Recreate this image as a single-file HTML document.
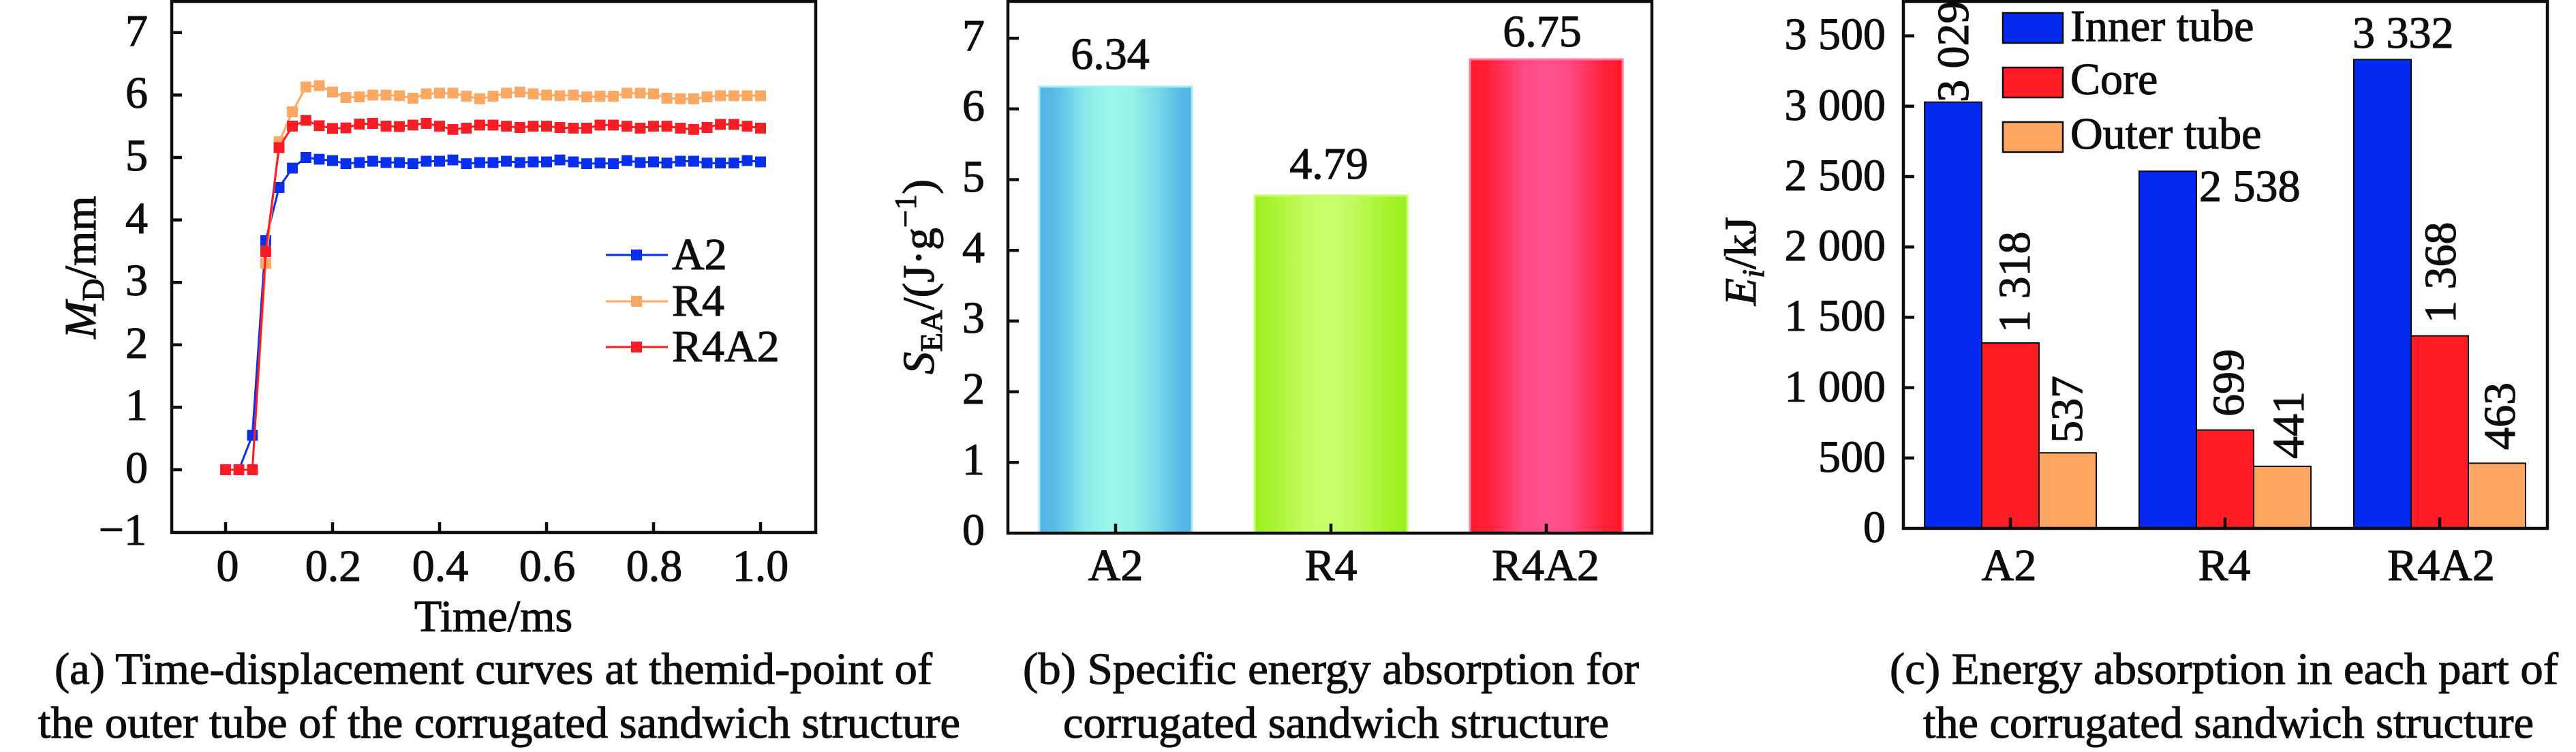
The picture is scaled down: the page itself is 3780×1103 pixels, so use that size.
<!DOCTYPE html>
<html>
<head>
<meta charset="utf-8">
<style>
html,body{margin:0;padding:0;background:#fff;}
svg{display:block}
text{font-family:"Liberation Serif","Times New Roman",serif;fill:#0d0d0d;font-size:66px;stroke:#0d0d0d;stroke-width:1.1px}
</style>
</head>
<body>
<svg width="3780" height="1103" viewBox="0 0 3780 1103" xmlns="http://www.w3.org/2000/svg">
<defs>
  <marker id="mb" markerUnits="userSpaceOnUse" markerWidth="16" markerHeight="16" refX="8" refY="8"><rect width="16" height="16" fill="#0a2ef0"/></marker>
  <marker id="mo" markerUnits="userSpaceOnUse" markerWidth="16" markerHeight="16" refX="8" refY="8"><rect width="16" height="16" fill="#fca862"/></marker>
  <marker id="mr" markerUnits="userSpaceOnUse" markerWidth="16" markerHeight="16" refX="8" refY="8"><rect width="16" height="16" fill="#fa1c24"/></marker>
  <linearGradient id="gA" x1="0" x2="1" y1="0" y2="0">
    <stop offset="0" stop-color="#52b3e4"/>
    <stop offset="0.1" stop-color="#58bce6"/>
    <stop offset="0.3" stop-color="#8ae9ea"/>
    <stop offset="0.45" stop-color="#9cf8e9"/>
    <stop offset="0.6" stop-color="#96f2e8"/>
    <stop offset="0.78" stop-color="#78d8e8"/>
    <stop offset="0.92" stop-color="#56bae6"/>
    <stop offset="1" stop-color="#52b4e4"/>
  </linearGradient>
  <linearGradient id="gR" x1="0" x2="1" y1="0" y2="0">
    <stop offset="0" stop-color="#9cee1e"/>
    <stop offset="0.1" stop-color="#a6f32c"/>
    <stop offset="0.35" stop-color="#c4fd62"/>
    <stop offset="0.5" stop-color="#c9ff6c"/>
    <stop offset="0.65" stop-color="#bffb5c"/>
    <stop offset="0.85" stop-color="#a6f42e"/>
    <stop offset="1" stop-color="#98ee1a"/>
  </linearGradient>
  <linearGradient id="gP" x1="0" x2="1" y1="0" y2="0">
    <stop offset="0" stop-color="#ff1a2a"/>
    <stop offset="0.12" stop-color="#ff2038"/>
    <stop offset="0.35" stop-color="#ff4a86"/>
    <stop offset="0.5" stop-color="#ff5290"/>
    <stop offset="0.65" stop-color="#ff4a86"/>
    <stop offset="0.88" stop-color="#ff2038"/>
    <stop offset="1" stop-color="#ff1a2a"/>
  </linearGradient>
</defs>
<rect width="3780" height="1103" fill="#fff"/>

<!-- ============ Panel (a) ============ -->
<g stroke="#0d0d0d" stroke-width="4.5" fill="none">
  <rect x="252" y="2" width="945" height="779"/>
  <path d="M252 689H267M252 597.4H267M252 505.8H267M252 414.2H267M252 322.6H267M252 231H267M252 139.4H267M252 47.8H267"/>
  <path d="M331 781V766M488 781V766M645 781V766M802 781V766M959 781V766M1116 781V766"/>
</g>
<g text-anchor="end">
  <text x="217" y="67">7</text>
  <text x="217" y="158">6</text>
  <text x="217" y="250">5</text>
  <text x="217" y="342">4</text>
  <text x="217" y="433">3</text>
  <text x="217" y="525">2</text>
  <text x="217" y="616">1</text>
  <text x="217" y="708">0</text>
  <text x="215" y="799">−1</text>
</g>
<g text-anchor="middle">
  <text x="334" y="852">0</text>
  <text x="489" y="852">0.2</text>
  <text x="646" y="852">0.4</text>
  <text x="803" y="852">0.6</text>
  <text x="960" y="852">0.8</text>
  <text x="1116" y="852">1.0</text>
  <text x="724" y="926">Time/ms</text>
</g>
<text transform="translate(140,392) rotate(-90)" text-anchor="middle"><tspan font-style="italic">M</tspan><tspan font-size="46" dy="12">D</tspan><tspan dy="-12">/mm</tspan></text>

<polyline fill="none" stroke="#0a2ef0" stroke-width="3" stroke-linejoin="round" marker-start="url(#mb)" marker-mid="url(#mb)" marker-end="url(#mb)"
points="331,689 350.6,689 370.3,638.6 389.9,352.8 409.5,275 429.1,246.6 448.8,231 468.4,233.7 488,235.6 507.6,240.2 527.3,238.3 546.9,236.5 566.5,238.3 586.1,238.3 605.8,240.2 625.4,236.5 645,236.5 664.6,234.7 684.3,240.2 703.9,238.3 723.5,238.3 743.1,236.5 762.8,238.3 782.4,237.4 802,237.4 821.6,234.7 841.3,237.4 860.9,240.2 880.5,239.2 900.1,240.2 919.8,235.6 939.4,238.3 959,237.4 978.6,239.2 998.3,236.5 1017.9,236.5 1037.5,239.2 1057.1,239.2 1076.8,239.2 1096.4,235.6 1116,237.4"/>
<polyline fill="none" stroke="#fca862" stroke-width="3" stroke-linejoin="round" marker-start="url(#mo)" marker-mid="url(#mo)" marker-end="url(#mo)"
points="331,689 350.6,689 370.3,689 389.9,386.7 409.5,208.1 429.1,164.1 448.8,127.5 468.4,125.7 488,134.8 507.6,143.1 527.3,142.1 546.9,139.4 566.5,139.4 586.1,140.3 605.8,144 625.4,137.6 645,136.7 664.6,136.7 684.3,141.2 703.9,144.9 723.5,141.2 743.1,136.7 762.8,134.8 782.4,137.6 802,139.4 821.6,140.3 841.3,139.4 860.9,142.1 880.5,141.2 900.1,141.2 919.8,136.7 939.4,136.7 959,137.6 978.6,144 998.3,144.9 1017.9,144.9 1037.5,142.1 1057.1,140.3 1076.8,140.3 1096.4,140.3 1116,140.3"/>
<polyline fill="none" stroke="#fa1c24" stroke-width="3" stroke-linejoin="round" marker-start="url(#mr)" marker-mid="url(#mr)" marker-end="url(#mr)"
points="331,689 350.6,689 370.3,689 389.9,369 409.5,216.7 429.1,185 448.8,176.7 468.4,184.3 488,188.3 507.6,187.7 527.3,182 546.9,181 566.5,185 586.1,185.7 605.8,183.3 625.4,181 645,185 664.6,189.8 684.3,187.9 703.9,183.4 723.5,183.4 743.1,185.2 762.8,187 782.4,185.2 802,185.2 821.6,187 841.3,187.9 860.9,187.9 880.5,183.4 900.1,183.4 919.8,185.2 939.4,187.9 959,185.2 978.6,185.2 998.3,187.9 1017.9,189.8 1037.5,187 1057.1,182.5 1076.8,182.5 1096.4,185.2 1116,187.9"/>

<!-- legend a -->
<g stroke-width="3">
  <line x1="889" y1="374" x2="980" y2="374" stroke="#0a2ef0"/>
  <line x1="889" y1="442" x2="980" y2="442" stroke="#fca862"/>
  <line x1="889" y1="509" x2="980" y2="509" stroke="#fa1c24"/>
</g>
<rect x="926" y="366" width="16" height="16" fill="#0a2ef0"/>
<rect x="926" y="434" width="16" height="16" fill="#fca862"/>
<rect x="926" y="501" width="16" height="16" fill="#fa1c24"/>
<text x="986" y="395">A2</text>
<text x="986" y="463">R4</text>
<text x="986" y="530">R4A2</text>

<text x="80" y="1003" font-size="67" textLength="1288" lengthAdjust="spacingAndGlyphs">(a) Time-displacement curves at themid-point of</text>
<text x="56" y="1082" font-size="67" textLength="1353" lengthAdjust="spacingAndGlyphs">the outer tube of the corrugated sandwich structure</text>

<!-- ============ Panel (b) ============ -->
<rect x="1525" y="127" width="224" height="655" fill="url(#gA)" stroke="#a6eef2" stroke-width="3"/>
<rect x="1841" y="287" width="224" height="495" fill="url(#gR)" stroke="#c6fb78" stroke-width="3"/>
<rect x="2157" y="87" width="224" height="695" fill="url(#gP)" stroke="#ff7aa2" stroke-width="3"/>
<g stroke="#0d0d0d" stroke-width="4.5" fill="none">
  <rect x="1479" y="2" width="945" height="780"/>
  <path d="M1479 678.3H1495M1479 574.6H1495M1479 470.9H1495M1479 367.2H1495M1479 263.5H1495M1479 159.8H1495M1479 56.1H1495"/>
  <path d="M1637 782V768M1953 782V768M2269 782V768"/>
</g>
<g text-anchor="end">
  <text x="1445" y="74">7</text>
  <text x="1445" y="177">6</text>
  <text x="1445" y="281">5</text>
  <text x="1445" y="385">4</text>
  <text x="1445" y="488">3</text>
  <text x="1445" y="592">2</text>
  <text x="1445" y="696">1</text>
  <text x="1445" y="799">0</text>
</g>
<g text-anchor="middle">
  <text x="1629" y="101">6.34</text>
  <text x="1950" y="262">4.79</text>
  <text x="2263" y="68">6.75</text>
  <text x="1637" y="851">A2</text>
  <text x="1953" y="851">R4</text>
  <text x="2268" y="851">R4A2</text>
</g>
<text transform="translate(1370,406) rotate(-90)" text-anchor="middle"><tspan font-style="italic">S</tspan><tspan font-size="46" dy="12">EA</tspan><tspan dy="-12">/(J·g</tspan><tspan font-size="46" dy="-26">−1</tspan><tspan dy="26">)</tspan></text>

<text x="1501" y="1003" font-size="67" textLength="904" lengthAdjust="spacingAndGlyphs">(b) Specific energy absorption for</text>
<text x="1560" y="1082" font-size="67" textLength="801" lengthAdjust="spacingAndGlyphs">corrugated sandwich structure</text>

<!-- ============ Panel (c) ============ -->
<g stroke="#0d0d0d" stroke-width="2">
  <rect x="2824" y="149.8" width="84" height="625.2" fill="#0529f0"/>
  <rect x="2908" y="503" width="84" height="272" fill="#ff1c24"/>
  <rect x="2992" y="664.2" width="84" height="110.8" fill="#fda662"/>
  <rect x="3139" y="251.2" width="84" height="523.8" fill="#0529f0"/>
  <rect x="3223" y="630.7" width="84" height="144.3" fill="#ff1c24"/>
  <rect x="3307" y="684" width="84" height="91" fill="#fda662"/>
  <rect x="3454" y="87.3" width="84" height="687.7" fill="#0529f0"/>
  <rect x="3538" y="492.6" width="84" height="282.4" fill="#ff1c24"/>
  <rect x="3622" y="679.4" width="84" height="95.6" fill="#fda662"/>
</g>
<g stroke="#0d0d0d" stroke-width="4.5" fill="none">
  <rect x="2793" y="2" width="945" height="773"/>
  <path d="M2793 671.8H2809M2793 568.6H2809M2793 465.4H2809M2793 362.2H2809M2793 259H2809M2793 155.8H2809M2793 52.6H2809"/>
  <path d="M2950 775V759M3265 775V759M3580 775V759"/>
</g>
<g text-anchor="end">
  <text x="2767" y="72">3 500</text>
  <text x="2767" y="176">3 000</text>
  <text x="2767" y="279">2 500</text>
  <text x="2767" y="382">2 000</text>
  <text x="2767" y="485">1 500</text>
  <text x="2767" y="589">1 000</text>
  <text x="2767" y="692">500</text>
  <text x="2767" y="795">0</text>
</g>
<g text-anchor="middle">
  <text x="2948" y="851">A2</text>
  <text x="3264" y="851">R4</text>
  <text x="3582" y="851">R4A2</text>
</g>
<text transform="translate(2576,383) rotate(-90)" text-anchor="middle"><tspan font-style="italic">E</tspan><tspan font-size="46" font-style="italic" dy="12">i</tspan><tspan dy="-12">/kJ</tspan></text>

<!-- value labels -->
<text x="3227" y="295">2 538</text>
<text x="3452" y="70">3 332</text>
<text transform="translate(2888,150) rotate(-90)">3 029</text>
<text transform="translate(2978,488) rotate(-90)">1 318</text>
<text transform="translate(3055,650) rotate(-90)">537</text>
<text transform="translate(3292,611) rotate(-90)">699</text>
<text transform="translate(3380,673) rotate(-90)">441</text>
<text transform="translate(3603,474) rotate(-90)">1 368</text>
<text transform="translate(3690,660) rotate(-90)">463</text>

<!-- legend c -->
<g stroke="#0d0d0d" stroke-width="2.5">
  <rect x="2939" y="19" width="88" height="44" fill="#0529f0"/>
  <rect x="2939" y="99" width="88" height="44" fill="#ff1c24"/>
  <rect x="2939" y="179" width="88" height="44" fill="#fda662"/>
</g>
<text x="3038" y="60">Inner tube</text>
<text x="3038" y="138">Core</text>
<text x="3038" y="218">Outer tube</text>

<text x="2773" y="1003" font-size="67" textLength="981" lengthAdjust="spacingAndGlyphs">(c) Energy absorption in each part of</text>
<text x="2822" y="1082" font-size="67" textLength="896" lengthAdjust="spacingAndGlyphs">the corrugated sandwich structure</text>
</svg>
</body>
</html>
